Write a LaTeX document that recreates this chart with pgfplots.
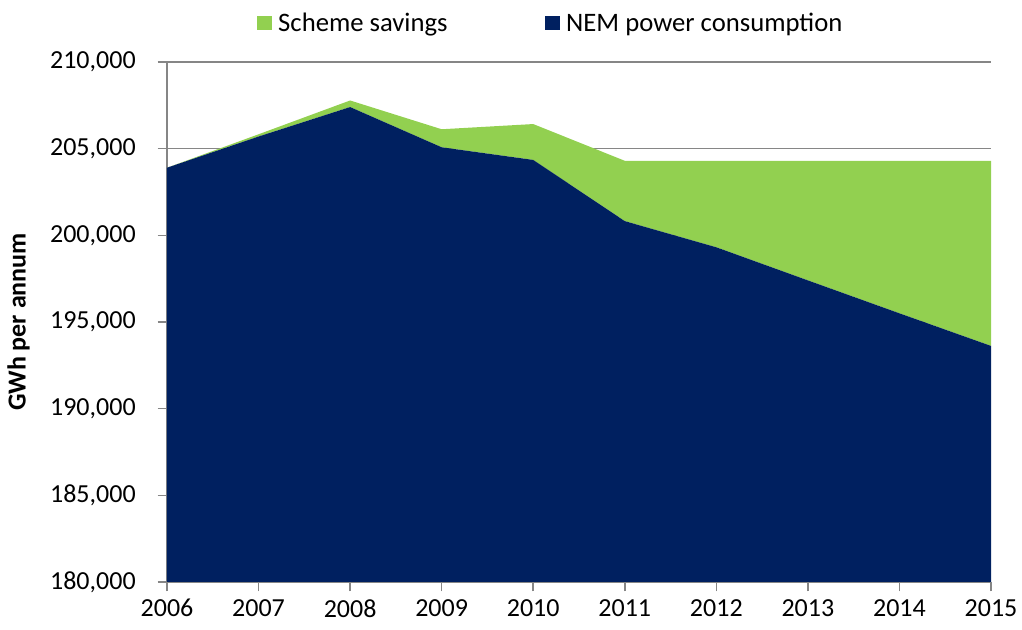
\documentclass[border=0pt]{standalone}
\usepackage{fontspec}
\setmainfont{Carlito}
\usepackage{pgfplots}
\pgfplotsset{compat=1.18}
\definecolor{navy}{RGB}{0,32,96}
\definecolor{lgreen}{RGB}{146,208,80}
\definecolor{gridgray}{RGB}{134,134,134}
\begin{document}
\begin{tikzpicture}
\begin{axis}[
  name=ax,
  scale only axis,
  width=618pt, height=390pt,
  xmin=2006, xmax=2015, ymin=180000, ymax=210000,
  xtick={2006,2007,2008,2009,2010,2011,2012,2013,2014,2015},
  xticklabels={2006,2007,2008,2009,2010,2011,2012,2013,2014,2015},
  ytick={180000,185000,190000,195000,200000,205000,210000},
  yticklabels={{180,000},{185,000},{190,000},{195,000},{200,000},{205,000},{210,000}},
  stack plots=y,
  axis x line*=bottom, axis y line*=left,
  axis line style={gridgray, line width=1.2pt, -},
  ymajorgrids, grid style={gridgray, line width=1.2pt},
  tick style={gridgray, line width=1.2pt},
  tick align=outside, major tick length=7pt,
  tick label style={font=\fontsize{19.5}{23}\selectfont},
  y tick label style={xshift=-13pt},
  x tick label style={yshift=-2.5pt},
  scaled y ticks=false,
  ylabel={\bfseries GWh per annum},
  ylabel style={font=\fontsize{19.5}{23}\selectfont, at={(axis description cs:-0.161,0.5)}, anchor=south},
  legend columns=2,
  reverse legend,
  legend style={at={(axis description cs:0.466,1.075)}, anchor=center, draw=none, fill=none,
    font=\fontsize{20}{23}\selectfont,
    /tikz/every odd column/.append style={column sep=3pt},
    /tikz/every even column/.append style={column sep=71pt}},
  legend image code/.code={\fill (0pt,-5.5pt) rectangle (11pt,5.5pt);},
]
\addplot[fill=navy, draw=none] coordinates {
 (2006,203900) (2007,205700) (2008,207400) (2009,205080) (2010,204350)
 (2011,200820) (2012,199310) (2013,197400) (2014,195500) (2015,193620)
} \closedcycle;
\addlegendentry{NEM power consumption}
\addplot[fill=lgreen, draw=none] coordinates {
 (2006,0) (2007,130) (2008,380) (2009,1040) (2010,2070)
 (2011,3480) (2012,4990) (2013,6900) (2014,8800) (2015,10680)
} \closedcycle;
\addlegendentry{Scheme savings}
\end{axis}
\pgfresetboundingbox
\path[use as bounding box] ([xshift=-125.25pt, yshift=-36pt]ax.south west) rectangle ([xshift=23.25pt, yshift=46.5pt]ax.north east);
\end{tikzpicture}
\end{document}
